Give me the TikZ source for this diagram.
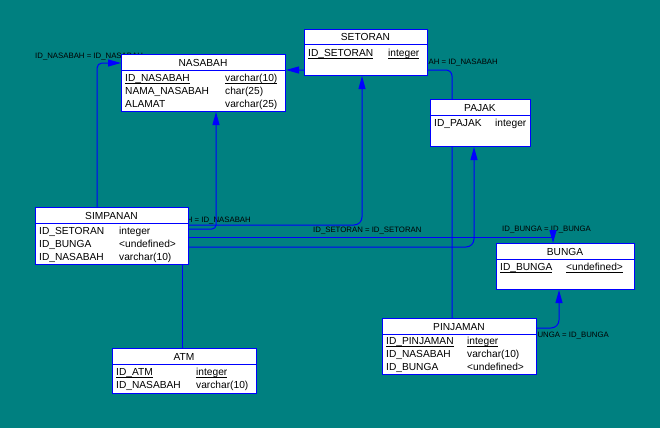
\documentclass[tikz,border=0pt]{standalone}
\usepackage{fontspec}
\setmainfont{Liberation Sans}
\usetikzlibrary{arrows.meta,calc}
\pgfdeclarelayer{bg}\pgfdeclarelayer{lbl}\pgfdeclarelayer{conn}
\pgfsetlayers{bg,lbl,conn,main}
\definecolor{teal0}{RGB}{0,128,128}
\definecolor{erblue}{RGB}{0,0,255}
\newcommand{\pkey}[1]{\underline{\vphantom{I}\smash{#1}}}
\begin{document}
\begin{tikzpicture}[x=1pt,y=-1pt,
 tbl/.style={draw=erblue, fill=white, line width=1pt, inner sep=0pt, anchor=north west},
 sep/.style={draw=erblue, line width=1pt},
 ttl/.style={font=\fontsize{10.2}{12}\selectfont, inner sep=0pt, anchor=base},
 fld/.style={font=\fontsize{10.2}{12}\selectfont, inner sep=0pt, anchor=base west},
 rel/.style={draw=erblue, line width=1pt, rounded corners=6pt},
 relarr/.style={rel, -{Triangle[length=13pt,width=7pt]}},
 lab/.style={font=\fontsize{7.8}{9}\selectfont, inner sep=0pt}
]
\begin{pgfonlayer}{bg}
\fill[teal0] (0,0) rectangle (660,428);
\end{pgfonlayer}
\useasboundingbox (0,0) rectangle (660,428);

% NASABAH
\node[tbl, minimum width=164pt, minimum height=57pt] (nasabah) at (121,54) {};
\draw[sep] (nasabah.west |- 0,70) -- (nasabah.east |- 0,70);
\node[ttl] (nasabahT) at (203,66) {NASABAH};
\node[fld] (n1) at (125,81.5) {\pkey{ID\_NASABAH}};
\node[fld] (n1t) at (225,81.5) {\pkey{varchar(10)}};
\node[fld] (n2) at (125,94.5) {NAMA\_NASABAH};
\node[fld] (n2t) at (225,94.5) {char(25)};
\node[fld] (n3) at (125,107.5) {ALAMAT};
\node[fld] (n3t) at (225,107.5) {varchar(25)};

% SETORAN
\node[tbl, minimum width=123pt, minimum height=46pt] (setoran) at (304,29) {};
\draw[sep] (setoran.west |- 0,45) -- (setoran.east |- 0,45);
\node[ttl] (setoranT) at (365.5,41) {SETORAN};
\node[fld] (s1) at (308,56.5) {\pkey{ID\_SETORAN}};
\node[fld] (s1t) at (388,56.5) {\pkey{integer}};

% PAJAK
\node[tbl, minimum width=100pt, minimum height=47pt] (pajak) at (430,99) {};
\draw[sep] (pajak.west |- 0,115) -- (pajak.east |- 0,115);
\node[ttl] (pajakT) at (480,111) {PAJAK};
\node[fld] (p1) at (434,126.5) {ID\_PAJAK};
\node[fld] (p1t) at (495,126.5) {integer};

% SIMPANAN
\node[tbl, minimum width=153pt, minimum height=57pt] (simpanan) at (35,207) {};
\draw[sep] (simpanan.west |- 0,223) -- (simpanan.east |- 0,223);
\node[ttl] (simpananT) at (111.5,219) {SIMPANAN};
\node[fld] (m1) at (39,234.5) {ID\_SETORAN};
\node[fld] (m1t) at (119,234.5) {integer};
\node[fld] (m2) at (39,247) {ID\_BUNGA};
\node[fld] (m2t) at (119,247) {<undefined>};
\node[fld] (m3) at (39,260.5) {ID\_NASABAH};
\node[fld] (m3t) at (119,260.5) {varchar(10)};

% BUNGA
\node[tbl, minimum width=138pt, minimum height=46pt] (bunga) at (496,243) {};
\draw[sep] (bunga.west |- 0,259) -- (bunga.east |- 0,259);
\node[ttl] (bungaT) at (565,255) {BUNGA};
\node[fld] (b1) at (500,270.5) {\pkey{ID\_BUNGA}};
\node[fld] (b1t) at (566,270.5) {\pkey{<undefined>}};

% PINJAMAN
\node[tbl, minimum width=154pt, minimum height=56pt] (pinjaman) at (382,318) {};
\draw[sep] (pinjaman.west |- 0,334) -- (pinjaman.east |- 0,334);
\node[ttl] (pinjamanT) at (459,330) {PINJAMAN};
\node[fld] (j1) at (386,344.5) {\pkey{ID\_PINJAMAN}};
\node[fld] (j1t) at (467,344.5) {\pkey{integer}};
\node[fld] (j2) at (386,357) {ID\_NASABAH};
\node[fld] (j2t) at (467,357) {varchar(10)};
\node[fld] (j3) at (386,370.5) {ID\_BUNGA};
\node[fld] (j3t) at (467,370.5) {<undefined>};

% ATM
\node[tbl, minimum width=144pt, minimum height=45pt] (atm) at (112,348) {};
\draw[sep] (atm.west |- 0,364) -- (atm.east |- 0,364);
\node[ttl] (atmT) at (184,360) {ATM};
\node[fld] (a1) at (116,375.5) {\pkey{ID\_ATM}};
\node[fld] (a1t) at (196,375.5) {\pkey{integer}};
\node[fld] (a2) at (116,388) {ID\_NASABAH};
\node[fld] (a2t) at (196,388) {varchar(10)};

% labels
\begin{pgfonlayer}{lbl}
\node[lab, anchor=west] (lA) at (35,57) {ID\_NASABAH = ID\_NASABAH};
\node[lab, anchor=east] (lB) at (498,63) {ID\_NASABAH = ID\_NASABAH};
\node[lab, anchor=east] (lC) at (251,220.5) {ID\_NASABAH = ID\_NASABAH};
\node[lab, anchor=west] (lD) at (313,231) {ID\_SETORAN = ID\_SETORAN};
\node[lab, anchor=west] (lE) at (502,230) {ID\_BUNGA = ID\_BUNGA};
\node[lab, anchor=east] (lG) at (609,336) {ID\_BUNGA = ID\_BUNGA};
\end{pgfonlayer}

% connectors
\begin{pgfonlayer}{conn}
\draw[relarr, rounded corners=5pt] (simpanan.north -| 97,0) |- (nasabah.west |- 0,63);
\draw[relarr] (pinjaman.north -| 452,0) |- (nasabah.east |- 0,70);
\draw[relarr, rounded corners=4pt] (simpanan.east |- 0,229) -| (nasabah.south -| 216,0);
\draw[relarr, rounded corners=8pt] (simpanan.east |- 0,225) -| (setoran.south -| 362,0);
\draw[relarr, rounded corners=0pt] (simpanan.east |- 0,237) -| (bunga.north -| 553,0);
\draw[relarr, rounded corners=8pt] (simpanan.east |- 0,247) -| (pajak.south -| 474,0);
\draw[relarr, rounded corners=8pt] (pinjaman.east |- 0,328) -| (bunga.south -| 559,0);
\draw[rel] (simpanan.south -| 182,0) -- (atm.north -| 182,0);
\end{pgfonlayer}
\end{tikzpicture}
\end{document}
